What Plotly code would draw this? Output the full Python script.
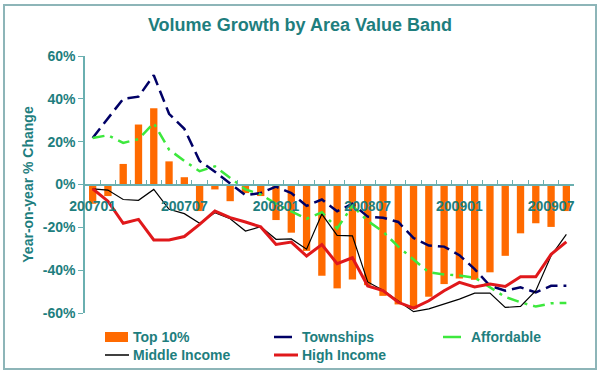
import plotly.graph_objects as go

months = [f"2007{m:02d}" for m in range(1, 13)] + [f"2008{m:02d}" for m in range(1, 13)] + [f"2009{m:02d}" for m in range(1, 9)]
label_months = ["200701", "200707", "200801", "200807", "200901", "200907"]

top10 = [-9, -5.4, 9.6, 28, 35.6, 10.8, 3.4, -12.4, -2.3, -7.8, -4, -5.4,
         -16.6, -22.5, -31, -42.6, -48.5, -44.3, -47, -52, -56, -58, -52.4, -46.5,
         -43.9, -44.5, -41, -33.3, -22.8, -18.1, -19.8, -12.4]
townships = [21.7, 31, 40, 41, 51, 33, 26, 11, 6, 0.5, -5, -4,
             -1, -4, -10, -7, -12.5, -9, -15, -15.5, -17.5, -25, -28.5, -29,
             -33, -39.5, -47.3, -49.6, -48, -50.4, -47.3, -47.3]
affordable = [21.7, 23, 19.4, 21.2, 28.7, 16.3, 11, 6.2, 8.5, 3.1, -2.3, -4.6,
              -9, -12.5, -16, -13, -20.5, -10, -17, -22, -29, -35, -41, -42,
              -42.5, -43.5, -48, -52.5, -55, -57, -55.5, -55.3]
middle = [-2, -2.6, -7, -7.4, -2.3, -11.6, -13.6, -18.1, -13.2, -16, -21.7, -19.7,
          -25.6, -25.4, -30.2, -13.8, -23.8, -24, -45.5, -49.4, -54.4, -59.4, -58.1, -55.8,
          -53.5, -50.7, -50.7, -57.4, -56.9, -49.6, -33.3, -23.3]
high = [-2, -7.8, -18.1, -16.3, -25.9, -25.9, -24.3, -18.6, -12.4, -15.5, -17.5, -19.8,
        -28, -26.9, -33.4, -28, -37, -34.2, -47.4, -49.5, -55, -57.7, -54.3, -49.6,
        -45.7, -47.8, -46.5, -47.6, -43.1, -43.1, -32.6, -26.8]

y_ticks = [60, 40, 20, 0, -20, -40, -60]
y_ticktext = ["60%", "40%", "20%", "0%", "-20%", "-40%", "-60%"]

TEAL = "#1E7E7E"
AXIS = "#6AAFB0"
FONT = "Arial, Liberation Sans, sans-serif"

# plot area in pixels (for converting layout positions of decorations)
L, R, T, B = 85, 574, 56, 313
W, H = R - L, B - T


def px(x):
    return (x - L) / W


def py(y):
    return (B - y) / H


series = [
    dict(name="Top 10%", y=top10, kind="bar", color="#FF6A00"),
    dict(name="Townships", y=townships, kind="line", color="#000066", width=2.5, dash="12px,6px"),
    dict(name="Affordable", y=affordable, kind="line", color="#3DE83D", width=2.5, dash="12px,6px,3px,6px"),
    dict(name="Middle Income", y=middle, kind="line", color="#000000", width=1.2, dash="solid"),
    dict(name="High Income", y=high, kind="line", color="#E0181B", width=3, dash="solid"),
]

fig = go.Figure()
for s in series:
    if s["kind"] == "bar":
        fig.add_trace(go.Bar(x=months, y=s["y"], name=s["name"],
                             marker=dict(color=s["color"], line=dict(width=0))))
    else:
        fig.add_trace(go.Scatter(x=months, y=s["y"], name=s["name"], mode="lines",
                                 line=dict(color=s["color"], width=s["width"], dash=s["dash"])))

# custom legend (3 columns x 2 rows)
col_x = [105, 274, 443]
row_y = [337, 355]
shapes = []
annotations = []
for i, s in enumerate(series):
    cx = col_x[i % 3]
    ry = row_y[i // 3]
    if s["kind"] == "bar":
        shapes.append(dict(type="rect", xref="paper", yref="paper",
                           x0=px(cx), x1=px(cx + 23), y0=py(ry + 5), y1=py(ry - 5),
                           fillcolor=s["color"], line=dict(width=0)))
    else:
        lw = 24 if s["name"] in ("Middle Income", "High Income") else 18
        shapes.append(dict(type="line", xref="paper", yref="paper",
                           x0=px(cx), x1=px(cx + lw), y0=py(ry), y1=py(ry),
                           line=dict(color=s["color"], width=max(s["width"], 1.5))))
    annotations.append(dict(text=s["name"], xref="paper", yref="paper", x=px(cx + 26), y=py(ry),
                            xanchor="left", yanchor="middle", showarrow=False,
                            font=dict(family=FONT, size=14, color=TEAL, weight="bold")))

# outer border
shapes.append(dict(type="rect", xref="paper", yref="paper",
                   x0=px(4), x1=px(596), y0=py(369), y1=py(5),
                   line=dict(color="#8DB5B8", width=2), fillcolor="rgba(0,0,0,0)", layer="below"))

ticktext = [m if m in label_months else "" for m in months]

fig.update_layout(
    width=600, height=374,
    margin=dict(l=L, r=600 - R, t=T, b=374 - B, autoexpand=False),
    paper_bgcolor="white", plot_bgcolor="white",
    font=dict(family=FONT, color=TEAL),
    bargap=0.52,
    showlegend=False,
    title=dict(text="Volume Growth by Area Value Band", x=0.5, xref="container", xanchor="center",
               y=1 - 25 / 374, yref="container", yanchor="middle",
               font=dict(family=FONT, size=18, color=TEAL, weight="bold")),
    xaxis=dict(type="category", tickmode="array", tickvals=months, ticktext=ticktext,
               tickson="boundaries", ticks="inside", ticklen=4, tickcolor=AXIS, tickangle=0,
               ticklabelstandoff=9,
               showline=True, linecolor=AXIS, linewidth=1.5, showgrid=False, zeroline=False,
               anchor="free", position=0.5,
               tickfont=dict(family=FONT, size=14, color=TEAL, weight="bold")),
    yaxis=dict(range=[-60, 60], tickmode="array", tickvals=y_ticks, ticktext=y_ticktext,
               ticks="outside", ticklen=5, tickcolor=AXIS, showline=True, linecolor=AXIS,
               linewidth=1.5, showgrid=False, zeroline=False,
               title=dict(text="Year-on-year % Change", standoff=6,
                          font=dict(family=FONT, size=14, color=TEAL, weight="bold")),
               tickfont=dict(family=FONT, size=14, color=TEAL, weight="bold")),
    shapes=shapes,
    annotations=annotations,
)

fig.write_html("out.html", config={"displayModeBar": False},
               post_script="document.body.style.margin='0';document.body.style.overflow='hidden';")
